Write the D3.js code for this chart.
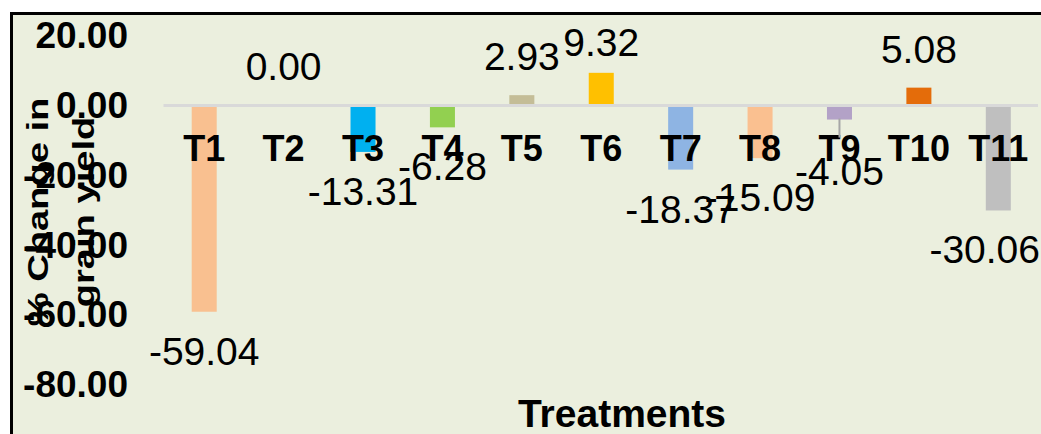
<!DOCTYPE html>
<html>
<head>
<meta charset="utf-8">
<script src="https://cdn.jsdelivr.net/npm/d3@7"></script>
<style>
  body { margin: 0; background: #ffffff; }
  text { font-family: "Liberation Sans", Arial, sans-serif; fill: #000; }
</style>
</head>
<body>
<div id="chart"></div>
<script>
    // Chart data
    const treatments = ["T1", "T2", "T3", "T4", "T5", "T6", "T7", "T8", "T9", "T10", "T11"];
    const changeValues = [-59.04, 0.00, -13.31, -6.28, 2.93, 9.32, -18.37, -15.09, -4.05, 5.08, -30.06];
    const barColours = ["#F9C090", "#F9C090", "#00B0F0", "#92D050", "#C4BD97", "#FFC000",
                        "#8EB4E3", "#FAC090", "#B3A2C7", "#E46C0A", "#BFBFBF"];
    const yTicks = [20, 0, -20, -40, -60, -80];
    const yTitleLines = ["% Change in", "grain yield"];
    const xTitle = "Treatments";

    // Graph properties
    const width = 1041;
    const height = 434;

    const svg = d3.select("#chart")
        .append("svg")
        .attr("width", width)
        .attr("height", height);

    // Chart area background and the black frame (only top and left show)
    svg.append("rect")
        .attr("x", 12).attr("y", 14)
        .attr("width", width - 12).attr("height", height - 14)
        .attr("fill", "#EBEFDE");
    svg.append("path")
        .attr("d", `M11.5,${height} V13.5 H${width}`)
        .attr("fill", "none")
        .attr("stroke", "#000")
        .attr("stroke-width", 3);

    // Scales
    const x = d3.scaleBand()
        .domain(treatments)
        .range([164.5, 1038])
        .paddingInner(0.685)
        .paddingOuter(0.3425);

    const y = d3.scaleLinear()
        .domain([-80, 20])
        .range([385, 35.5]);

    // plain hyphen for negatives, like the original
    const fmt = d3.formatLocale({
        decimal: ".", thousands: ",", grouping: [3], currency: ["", ""], minus: "-"
    }).format(".2f");

    // Bars
    svg.append("g")
        .selectAll("rect")
        .data(changeValues)
        .join("rect")
            .attr("x", (d, i) => x(treatments[i]))
            .attr("y", d => y(Math.max(0, d)))
            .attr("width", x.bandwidth())
            .attr("height", d => Math.abs(y(d) - y(0)))
            .attr("fill", (d, i) => barColours[i]);

    // Zero line
    svg.append("line")
        .attr("x1", x.range()[0] - 1).attr("x2", x.range()[1])
        .attr("y1", y(0)).attr("y2", y(0))
        .attr("stroke", "#D9D9D9")
        .attr("stroke-width", 3);

    // Y axis labels only
    const yAxis = svg.append("g")
        .attr("transform", "translate(136,0)")
        .call(d3.axisLeft(y).tickValues(yTicks).tickFormat(fmt).tickSize(0).tickPadding(8));
    yAxis.select(".domain").remove();
    yAxis.selectAll("text")
        .attr("font-family", "Liberation Sans, Arial, sans-serif")
        .attr("font-size", 37)
        .attr("font-weight", "bold")
        .attr("fill", "#000");

    // X axis labels sit just under the zero line
    const xAxis = svg.append("g")
        .attr("transform", `translate(0,${y(0)})`)
        .call(d3.axisBottom(x).tickSize(0).tickPadding(30));
    xAxis.select(".domain").remove();
    xAxis.selectAll("text")
        .attr("font-family", "Liberation Sans, Arial, sans-serif")
        .attr("font-size", 36)
        .attr("font-weight", "bold")
        .attr("fill", "#000");

    // Leader line for the moved T9 label
    const t9 = treatments.indexOf("T9");
    svg.append("line")
        .attr("x1", x("T9") + x.bandwidth() / 2).attr("x2", x("T9") + x.bandwidth() / 2)
        .attr("y1", y(changeValues[t9]) - 1).attr("y2", y(changeValues[t9]) + 18)
        .attr("stroke", "#A6A6A6")
        .attr("stroke-width", 2);

    // Data labels, above positive bars and below negative ones
    const nudge = { T6: 8, T9: 12 };
    const labels = svg.append("g")
        .selectAll("text")
        .data(changeValues)
        .join("text")
            .attr("x", (d, i) => x(treatments[i]) + x.bandwidth() / 2)
            .attr("y", (d, i) => y(d) + (d < 0 ? 39 : -39) + (nudge[treatments[i]] || 0))
            .attr("dy", "0.36em")
            .attr("text-anchor", "middle")
            .attr("font-size", 39)
            .text(d => fmt(d));

    // keep labels inside the chart area (Excel pulls them in at the edge)
    labels.each(function() {
        const box = this.getBBox();
        const over = box.x + box.width - (width - 1);
        if (over > 0) d3.select(this).attr("x", +d3.select(this).attr("x") - over);
    });

    // Axis titles
    svg.append("text")
        .attr("x", 622).attr("y", 427)
        .attr("text-anchor", "middle")
        .attr("font-size", 39)
        .attr("font-weight", "bold")
        .text(xTitle);

    svg.append("g")
        .selectAll("text")
        .data(yTitleLines)
        .join("text")
            .attr("transform", (d, i) => `translate(${47.5 + i * 46},212) rotate(-90) scale(1.27,1)`)
            .attr("text-anchor", "middle")
            .attr("font-size", 30)
            .attr("font-weight", "bold")
            .text(d => d);
</script>
</body>
</html>
